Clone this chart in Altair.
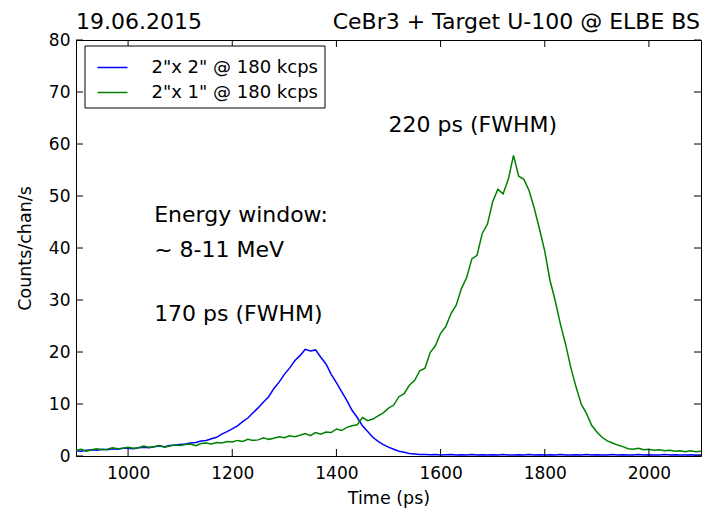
import altair as alt
import pandas as pd

# ---- data ----
time_ps = list(range(900, 2101, 10))

counts_2x2 = [
    1.0, 0.9, 1.1, 1.2, 1.1, 1.3, 1.2, 1.4, 1.3, 1.5,
    1.5, 1.4, 1.6, 1.7, 1.6, 1.8, 1.9, 1.8, 2.0, 2.1,
    2.2, 2.3, 2.5, 2.6, 2.9, 3.0, 3.3, 3.6, 4.2, 4.7,
    5.2, 5.8, 6.6, 7.3, 8.3, 9.3, 10.4, 11.4, 13.0, 14.2,
    15.7, 16.9, 18.3, 19.3, 20.5, 20.2, 20.4, 19.0, 17.7, 15.7,
    14.1, 12.4, 10.7, 8.8, 7.4, 5.8, 4.7, 3.6, 2.8, 2.2,
    1.7, 1.3, 0.9, 0.7, 0.5, 0.4, 0.3, 0.3, 0.25, 0.3,
    0.2, 0.25, 0.3, 0.2, 0.25, 0.2, 0.3, 0.2, 0.25, 0.2,
    0.25, 0.2, 0.3, 0.2, 0.2, 0.25, 0.2, 0.3, 0.2, 0.25,
    0.2, 0.25, 0.2, 0.3, 0.2, 0.2, 0.25, 0.2, 0.3, 0.2,
    0.25, 0.2, 0.2, 0.3, 0.2, 0.25, 0.2, 0.2, 0.3, 0.2,
    0.25, 0.2, 0.2, 0.3, 0.2, 0.25, 0.2, 0.2, 0.25, 0.2,
    0.2,
]

counts_2x1 = [
    1.1, 1.3, 0.9, 1.2, 1.4, 1.2, 1.3, 1.6, 1.4, 1.5,
    1.7, 1.5, 1.6, 1.9, 1.7, 1.8, 2.0, 1.7, 1.9, 2.1,
    2.0, 2.2, 2.3, 2.0, 2.4, 2.5, 2.3, 2.6, 2.5, 2.8,
    2.7, 3.0, 2.8, 3.2, 3.0, 3.1, 3.5, 3.2, 3.4, 3.7,
    3.5, 3.9, 3.7, 4.0, 4.3, 3.9, 4.5, 4.2, 4.6, 4.5,
    5.2, 4.9, 5.5, 5.8, 6.0, 7.4, 6.8, 7.1, 7.7, 8.3,
    9.2, 9.8, 11.4, 12.0, 13.6, 14.5, 16.4, 16.9, 19.9, 21.2,
    23.6, 24.9, 27.4, 29.0, 32.2, 34.3, 37.9, 38.6, 42.8, 44.6,
    48.9, 51.3, 50.4, 53.2, 57.8, 53.8, 53.2, 51.0, 47.6, 43.6,
    39.4, 33.8, 29.9, 25.4, 21.5, 17.0, 13.3, 10.0, 8.2, 5.9,
    4.6, 3.6, 2.9, 2.5, 2.1, 1.8, 1.4, 1.3, 1.5, 1.2,
    1.3, 1.1, 1.2, 1.0, 1.1, 0.9, 1.0, 0.8, 1.0, 0.8,
    0.9,
]

series_names = ['2"x 2" @ 180 kcps', '2"x 1" @ 180 kcps']
series_colors = ["#0000ff", "#008000"]

x_ticks = [1000, 1200, 1400, 1600, 1800, 2000]
y_ticks = [0, 10, 20, 30, 40, 50, 60, 70, 80]

annot_text = ["Energy window:", "~ 8-11 MeV", "170 ps (FWHM)", "220 ps (FWHM)"]
annot_x = [1050, 1050, 1050, 1500]
annot_y = [45.0, 38.3, 26.0, 62.3]

title_left = "19.06.2015"
title_right = "CeBr3 + Target U-100 @ ELBE BS"

# ---- layout/style ----
W, H = 625, 416
FONT = "DejaVu Sans"
TICK_LEN = 7

lines_df = pd.DataFrame({
    "time": time_ps * 2,
    "counts": counts_2x2 + counts_2x1,
    "series": [series_names[0]] * len(time_ps) + [series_names[1]] * len(time_ps),
    "order": [0] * len(time_ps) + [1] * len(time_ps),
})

x_scale = alt.Scale(domain=[900, 2100], nice=False, zero=False)
y_scale = alt.Scale(domain=[0, 80], nice=False, zero=False)

x_axis = alt.Axis(values=x_ticks, title="Time (ps)", labelPadding=9, titlePadding=8,
                  format="d")
y_axis = alt.Axis(values=y_ticks, title="Counts/chan/s", labelPadding=6, titlePadding=14,
                  format="d")

lines = alt.Chart(lines_df).mark_line(strokeWidth=1.5, clip=True).encode(
    x=alt.X("time:Q", scale=x_scale, axis=x_axis),
    y=alt.Y("counts:Q", scale=y_scale, axis=y_axis),
    color=alt.Color(
        "series:N",
        scale=alt.Scale(domain=series_names, range=series_colors),
        sort=series_names,
        legend=alt.Legend(
            orient="none", legendX=8.5, legendY=5.5, title=None,
            strokeColor="black", fillColor="white", padding=6, cornerRadius=0,
            symbolType="stroke", symbolSize=900, symbolStrokeWidth=1.5,
            symbolOffset=6, labelOffset=23, rowPadding=-4, labelLimit=0,
            labelFont=FONT, labelFontSize=18, labelColor="black",
        ),
    ),
    order="order:Q",
)

annot_df = pd.DataFrame({"time": annot_x, "counts": annot_y, "text": annot_text})
annots = alt.Chart(annot_df).mark_text(
    align="left", baseline="alphabetic", font=FONT, fontSize=22, color="black"
).encode(x="time:Q", y="counts:Q", text="text:N")

xt_df = pd.DataFrame({"time": x_ticks})
yt_df = pd.DataFrame({"counts": y_ticks})
tick_style = dict(color="black", strokeWidth=1)
xt_bottom = alt.Chart(xt_df).mark_rule(**tick_style).encode(
    x="time:Q", y=alt.value(H), y2=alt.value(H - TICK_LEN))
xt_top = alt.Chart(xt_df).mark_rule(**tick_style).encode(
    x="time:Q", y=alt.value(0), y2=alt.value(TICK_LEN))
yt_left = alt.Chart(yt_df).mark_rule(**tick_style).encode(
    y="counts:Q", x=alt.value(0), x2=alt.value(TICK_LEN))
yt_right = alt.Chart(yt_df).mark_rule(**tick_style).encode(
    y="counts:Q", x=alt.value(W), x2=alt.value(W - TICK_LEN))

titles_df = pd.DataFrame({"left": [title_left], "right": [title_right]})
t_left = alt.Chart(titles_df).mark_text(
    align="left", baseline="alphabetic", font=FONT, fontSize=22, color="black"
).encode(text="left:N", x=alt.value(0), y=alt.value(-11))
t_right = alt.Chart(titles_df).mark_text(
    align="right", baseline="alphabetic", font=FONT, fontSize=22, color="black"
).encode(text="right:N", x=alt.value(W - 1), y=alt.value(-11))

chart = alt.layer(
    lines, annots, xt_bottom, xt_top, yt_left, yt_right, t_left, t_right
).properties(
    width=W, height=H,
    autosize=alt.AutoSizeParams(type="none"),
    padding={"left": 76, "top": 40, "right": 1, "bottom": 53},
    background="white",
).configure_view(
    stroke="black", strokeWidth=1
).configure_axis(
    domain=False, ticks=False, grid=False,
    labelFont=FONT, labelFontSize=17, labelColor="black",
    titleFont=FONT, titleFontSize=17.5, titleColor="black", titleFontWeight="normal",
)

chart.save("out.html", embed_options={"renderer": "svg", "actions": False})
